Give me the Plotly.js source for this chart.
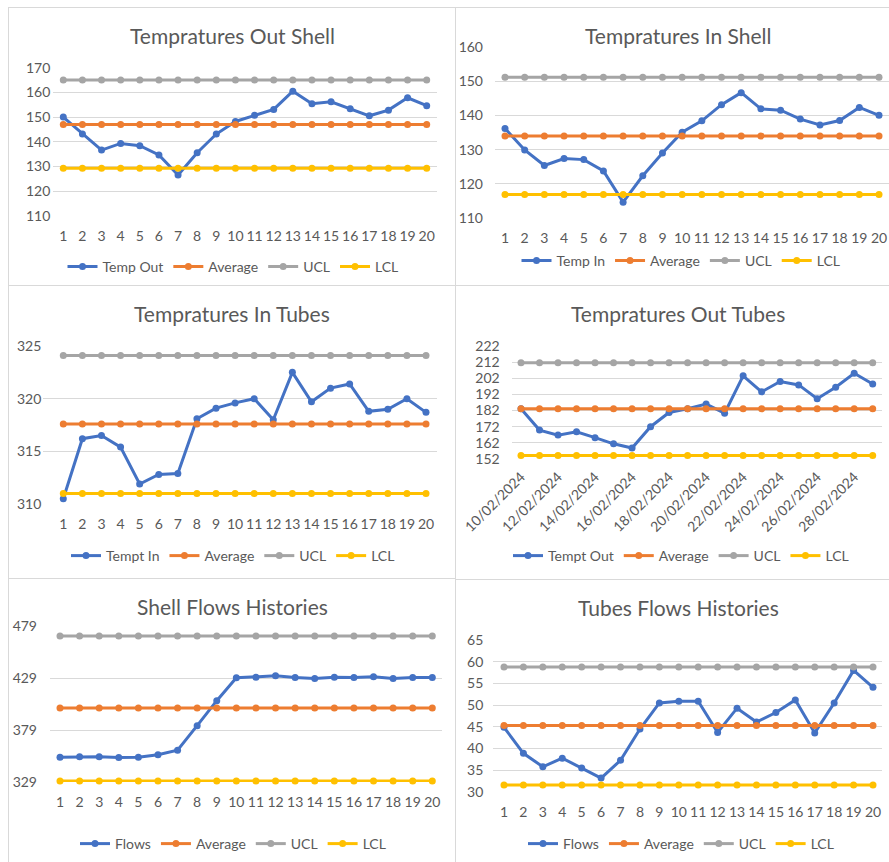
<!DOCTYPE html>
<html>
<head>
<meta charset="utf-8">
<script src="https://cdn.plot.ly/plotly-3.0.1.min.js"></script>
<style>html,body{margin:0;padding:0;background:#fff;}#chart{width:889px;height:862px;}</style>
</head>
<body>
<div id="chart"></div>
<script>
// ---------------- DATA ----------------
const samples = [1,2,3,4,5,6,7,8,9,10,11,12,13,14,15,16,17,18,19,20];
const dates = ["10/02/2024","11/02/2024","12/02/2024","13/02/2024","14/02/2024","15/02/2024","16/02/2024","17/02/2024","18/02/2024","19/02/2024",
               "20/02/2024","21/02/2024","22/02/2024","23/02/2024","24/02/2024","25/02/2024","26/02/2024","27/02/2024","28/02/2024","29/02/2024"];
const seriesNames1 = ["Temp Out","Average","UCL","LCL"];
const seriesNames2 = ["Temp In","Average","UCL","LCL"];
const seriesNames3 = ["Tempt In","Average","UCL","LCL"];
const seriesNames4 = ["Tempt Out","Average","UCL","LCL"];
const seriesNames5 = ["Flows","Average","UCL","LCL"];
const seriesNames6 = ["Flows","Average","UCL","LCL"];

// Tempratures Out Shell
const outShell    = [150.0,143.1,136.6,139.3,138.4,134.6,126.5,135.5,143.1,148.2,150.7,153.1,160.5,155.4,156.2,153.4,150.5,152.8,157.8,154.6];
const outShellAvg = [147.0,147.0,147.0,147.0,147.0,147.0,147.0,147.0,147.0,147.0,147.0,147.0,147.0,147.0,147.0,147.0,147.0,147.0,147.0,147.0];
const outShellUCL = [165.0,165.0,165.0,165.0,165.0,165.0,165.0,165.0,165.0,165.0,165.0,165.0,165.0,165.0,165.0,165.0,165.0,165.0,165.0,165.0];
const outShellLCL = [129.2,129.2,129.2,129.2,129.2,129.2,129.2,129.2,129.2,129.2,129.2,129.2,129.2,129.2,129.2,129.2,129.2,129.2,129.2,129.2];

// Tempratures In Shell
const inShell    = [136.2,129.9,125.4,127.4,127.1,123.8,114.7,122.4,129.0,135.1,138.4,143.1,146.6,141.9,141.5,138.9,137.2,138.5,142.3,140.0];
const inShellAvg = [134.0,134.0,134.0,134.0,134.0,134.0,134.0,134.0,134.0,134.0,134.0,134.0,134.0,134.0,134.0,134.0,134.0,134.0,134.0,134.0];
const inShellUCL = [151.1,151.1,151.1,151.1,151.1,151.1,151.1,151.1,151.1,151.1,151.1,151.1,151.1,151.1,151.1,151.1,151.1,151.1,151.1,151.1];
const inShellLCL = [116.9,116.9,116.9,116.9,116.9,116.9,116.9,116.9,116.9,116.9,116.9,116.9,116.9,116.9,116.9,116.9,116.9,116.9,116.9,116.9];

// Tempratures In Tubes
const inTubes    = [310.5,316.2,316.5,315.4,311.9,312.8,312.9,318.1,319.1,319.6,320.0,318.0,322.5,319.7,321.0,321.4,318.8,319.0,320.0,318.7];
const inTubesAvg = [317.6,317.6,317.6,317.6,317.6,317.6,317.6,317.6,317.6,317.6,317.6,317.6,317.6,317.6,317.6,317.6,317.6,317.6,317.6,317.6];
const inTubesUCL = [324.1,324.1,324.1,324.1,324.1,324.1,324.1,324.1,324.1,324.1,324.1,324.1,324.1,324.1,324.1,324.1,324.1,324.1,324.1,324.1];
const inTubesLCL = [311.0,311.0,311.0,311.0,311.0,311.0,311.0,311.0,311.0,311.0,311.0,311.0,311.0,311.0,311.0,311.0,311.0,311.0,311.0,311.0];

// Tempratures Out Tubes
const outTubes    = [183.1,169.9,166.8,168.9,165.2,161.4,158.8,172.0,180.8,183.1,186.0,180.4,203.5,193.6,200.0,197.9,189.3,196.5,205.1,198.5];
const outTubesAvg = [183.1,183.1,183.1,183.1,183.1,183.1,183.1,183.1,183.1,183.1,183.1,183.1,183.1,183.1,183.1,183.1,183.1,183.1,183.1,183.1];
const outTubesUCL = [211.7,211.7,211.7,211.7,211.7,211.7,211.7,211.7,211.7,211.7,211.7,211.7,211.7,211.7,211.7,211.7,211.7,211.7,211.7,211.7];
const outTubesLCL = [154.1,154.1,154.1,154.1,154.1,154.1,154.1,154.1,154.1,154.1,154.1,154.1,154.1,154.1,154.1,154.1,154.1,154.1,154.1,154.1];
const outTubesTicks = [152,162,172,182,192,202,212,222];

// Shell Flows Histories
const shellFlows    = [352.9,353.2,353.2,352.6,352.9,355.2,359.6,383.2,407.2,429.2,429.8,431.1,429.5,428.6,429.8,429.5,430.2,428.6,429.5,429.5];
const shellFlowsAvg = [400.2,400.2,400.2,400.2,400.2,400.2,400.2,400.2,400.2,400.2,400.2,400.2,400.2,400.2,400.2,400.2,400.2,400.2,400.2,400.2];
const shellFlowsUCL = [469.4,469.4,469.4,469.4,469.4,469.4,469.4,469.4,469.4,469.4,469.4,469.4,469.4,469.4,469.4,469.4,469.4,469.4,469.4,469.4];
const shellFlowsLCL = [330.0,330.0,330.0,330.0,330.0,330.0,330.0,330.0,330.0,330.0,330.0,330.0,330.0,330.0,330.0,330.0,330.0,330.0,330.0,330.0];
const shellFlowsTicks = [329,379,429,479];

// Tubes Flows Histories
const tubeFlows    = [44.9,38.9,35.8,37.8,35.5,33.2,37.3,44.5,50.5,50.9,50.9,43.7,49.3,46.1,48.3,51.2,43.6,50.5,58.0,54.1];
const tubeFlowsAvg = [45.3,45.3,45.3,45.3,45.3,45.3,45.3,45.3,45.3,45.3,45.3,45.3,45.3,45.3,45.3,45.3,45.3,45.3,45.3,45.3];
const tubeFlowsUCL = [58.8,58.8,58.8,58.8,58.8,58.8,58.8,58.8,58.8,58.8,58.8,58.8,58.8,58.8,58.8,58.8,58.8,58.8,58.8,58.8];
const tubeFlowsLCL = [31.6,31.6,31.6,31.6,31.6,31.6,31.6,31.6,31.6,31.6,31.6,31.6,31.6,31.6,31.6,31.6,31.6,31.6,31.6,31.6];

const titles = ["Tempratures Out Shell","Tempratures In Shell","Tempratures In Tubes","Tempratures Out Tubes","Shell Flows Histories","Tubes Flows Histories"];

// ---------------- STYLE / LAYOUT ----------------
const W = 889, H = 862;
const colors = ["#4472C4","#ED7D31","#A5A5A5","#FFC000"];
const FONT = "Lato, 'Open Sans', sans-serif";
const TXT = "#595959";
const GRID = "#D9D9D9";
const TICK = 14, LEG = 14, TTL = 21;

// pixel geometry of each panel (plot box + first/last category centre, title and legend centre)
const geo = [
  {l:53.3, r:436.7, f:63.3, la:426.7, t:67.7, b:218.3-2.6, yr:[110,170], tx:232, ty:35,  lx:233, ly:267, ys:2},
  {l:495,  r:889,   f:505,  la:879,   t:46.7, b:218.3, yr:[110,160], tx:678, ty:35,  lx:681, ly:261, ys:11},
  {l:43.3, r:436.7, f:63.3, la:426,   t:346,  b:504,   yr:[310,325], tx:232, ty:313, lx:233, ly:556, ys:1},
  {l:511.7,r:881.7, f:521,  la:872.7, t:346,  b:459,   yr:[152,222], tx:678, ty:313, lx:681, ly:556, ys:11},
  {l:50,   r:442,   f:60,   la:432.3, t:626,  b:782,   yr:[329,479], tx:232, ty:606, lx:233, ly:844, ys:12},
  {l:493.3,r:881.7, f:504,  la:873,   t:640,  b:792,   yr:[30,65],   tx:678, ty:607, lx:681, ly:844, ys:9}
];

const panels = [
  {x:samples, names:seriesNames1, ys:[outShell,outShellAvg,outShellUCL,outShellLCL]},
  {x:samples, names:seriesNames2, ys:[inShell,inShellAvg,inShellUCL,inShellLCL]},
  {x:samples, names:seriesNames3, ys:[inTubes,inTubesAvg,inTubesUCL,inTubesLCL]},
  {x:dates,   names:seriesNames4, ys:[outTubes,outTubesAvg,outTubesUCL,outTubesLCL]},
  {x:samples, names:seriesNames5, ys:[shellFlows,shellFlowsAvg,shellFlowsUCL,shellFlowsLCL]},
  {x:samples, names:seriesNames6, ys:[tubeFlows,tubeFlowsAvg,tubeFlowsUCL,tubeFlowsLCL]}
];

const traces = [];
const layout = {
  width: W, height: H,
  margin: {l:0, r:0, t:0, b:0},
  paper_bgcolor: "#fff", plot_bgcolor: "rgba(0,0,0,0)",
  font: {family: FONT, color: TXT, size: TICK},
  showlegend: true,
  annotations: [],
  shapes: []
};

panels.forEach((p, i) => {
  const g = geo[i];
  const n = i + 1;
  const xa = "x" + (n === 1 ? "" : n), ya = "y" + (n === 1 ? "" : n);
  const legName = "legend" + (n === 1 ? "" : n);
  p.ys.forEach((yv, k) => {
    traces.push({
      type: "scatter", mode: "lines+markers",
      x: p.x, y: yv, name: p.names[k],
      xaxis: xa, yaxis: ya, legend: legName,
      line: {color: colors[k], width: 3},
      marker: {color: colors[k], size: 7},
      cliponaxis: false,
      hoverinfo: "skip"
    });
  });
  const sp = (g.la - g.f) / 19;
  const isDate = (i === 3);
  const i0 = isDate ? 0 : 1;
  const xr = [i0 - (g.f - g.l) / sp, i0 + 19 + (g.r - g.la) / sp];
  const xaxis = {
    domain: [g.l / W, g.r / W],
    anchor: ya, range: xr, fixedrange: true,
    showgrid: false, zeroline: false, showline: false,
    ticks: "", tickfont: {family: FONT, size: TICK, color: TXT},
    ticklabelstandoff: 10, ticklabeloverflow: "allow"
  };
  if (isDate) {
    xaxis.type = "category";
    xaxis.tickmode = "array";
    xaxis.tickvals = dates.filter((d, j) => j % 2 === 0);
    xaxis.ticktext = xaxis.tickvals;
    xaxis.tickangle = -45;
    xaxis.ticklabelstandoff = 6;
  } else {
    xaxis.tickmode = "array";
    xaxis.tickvals = samples;
    xaxis.ticktext = samples.map(String);
  }
  const yaxis = {
    domain: [1 - g.b / H, 1 - g.t / H],
    anchor: xa, range: g.yr, fixedrange: true,
    showgrid: true, gridcolor: GRID, gridwidth: 1,
    zeroline: false, showline: false, ticks: "",
    tickfont: {family: FONT, size: TICK, color: TXT},
    ticklabelstandoff: g.ys, ticklabeloverflow: "allow"
  };
  if (i === 3) { yaxis.tickmode = "array"; yaxis.tickvals = outTubesTicks; }
  else if (i === 4) { yaxis.tickmode = "array"; yaxis.tickvals = shellFlowsTicks; }
  else if (i === 2 || i === 5) { yaxis.dtick = 5; yaxis.tick0 = 0; }
  else { yaxis.dtick = 10; yaxis.tick0 = 0; }
  layout["xaxis" + (n === 1 ? "" : n)] = xaxis;
  layout["yaxis" + (n === 1 ? "" : n)] = yaxis;
  layout[legName] = {
    orientation: "h", x: g.lx / W, xanchor: "center",
    y: 1 - g.ly / H, yanchor: "middle",
    font: {family: FONT, size: LEG, color: TXT},
    bgcolor: "rgba(0,0,0,0)", itemwidth: 30, tracegroupgap: 0
  };
  layout.annotations.push({
    text: titles[i], xref: "paper", yref: "paper",
    x: g.tx / W, y: 1 - g.ty / H, xanchor: "center", yanchor: "middle",
    showarrow: false, font: {family: FONT, size: TTL, color: TXT}
  });
});

// panel borders
const border = {color: GRID, width: 1};
function vline(px, py0, py1){ return {type:"line", xref:"paper", yref:"paper", x0:px/W, x1:px/W, y0:1-py0/H, y1:1-py1/H, line:border, layer:"below"}; }
function hline(py, px0, px1){ return {type:"line", xref:"paper", yref:"paper", x0:px0/W, x1:px1/W, y0:1-py/H, y1:1-py/H, line:border, layer:"below"}; }
layout.shapes.push(vline(8.5, 7, 862), vline(455.5, 7, 862), hline(7.5, 8, 889), hline(285.5, 8, 889), hline(578.5, 8, 455), hline(579.5, 455, 889));

Plotly.newPlot("chart", traces, layout, {staticPlot: true, displayModeBar: false});
</script>
</body>
</html>
